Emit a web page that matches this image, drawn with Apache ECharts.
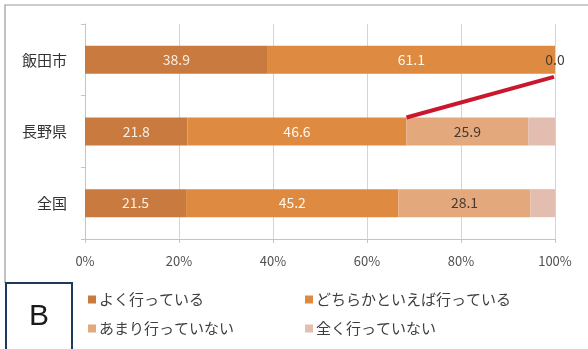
<!DOCTYPE html>
<html>
<head>
<meta charset="utf-8">
<script src="https://cdn.jsdelivr.net/npm/echarts@6/dist/echarts.min.js"></script>
<style>
  html, body { margin: 0; padding: 0; background: #fff; }
  #chart { width: 588px; height: 349px; }
</style>
</head>
<body>
<div id="chart"></div>
<script>
// Regions, listed bottom-to-top so the first one ends up on top
const regions = ['全国', '長野県', '飯田市'];
const seriesNames = ['よく行っている', 'どちらかといえば行っている', 'あまり行っていない', '全く行っていない'];
const oftenGo = [21.5, 21.8, 38.9];
const ratherGo = [45.2, 46.6, 61.1];
const rarelyGo = [28.1, 25.9, 0.0];
const neverGo = [5.2, 5.7, 0.0];
const xTicks = [0, 20, 40, 60, 80, 100];

const colors = ['#c97a3e', '#de8b41', '#e3a87c', '#e2bdb0'];
const labelColors = ['#fbeee2', '#fff6ec', '#4a3a30', '#4a3a30'];
const font = '"Noto Sans CJK JP", "Noto Sans", sans-serif';

const chart = echarts.init(document.getElementById('chart'));

function barSeries(idx, values, showLabel) {
  return {
    name: seriesNames[idx],
    type: 'bar',
    stack: 'total',
    barWidth: 28,
    data: values,
    itemStyle: { color: colors[idx] },
    label: {
      show: showLabel,
      position: 'inside',
      color: labelColors[idx],
      fontFamily: font,
      fontSize: 14,
      formatter: p => p.value.toFixed(1)
    },
    emphasis: { disabled: true },
    animation: false
  };
}

function legendAt(idx, left, top) {
  return {
    data: [seriesNames[idx]],
    left: left, top: top,
    itemWidth: 8, itemHeight: 8, itemGap: 4,
    icon: 'rect',
    textStyle: { fontFamily: font, fontSize: 15, color: '#3f3f3f', padding: [0, 0, 0, -2] },
    selectedMode: false
  };
}

chart.setOption({
  animation: false,
  grid: { left: 85, right: 33, top: 24, bottom: 110 },
  legend: [
    legendAt(0, 83, 287),
    legendAt(1, 300, 287),
    legendAt(2, 83, 316),
    legendAt(3, 300, 316)
  ],
  xAxis: {
    type: 'value', min: 0, max: 100, interval: 20,
    axisLine: { show: true, lineStyle: { color: '#c4c4c4' } },
    axisTick: { show: true, length: 4, lineStyle: { color: '#c4c4c4' } },
    splitLine: { show: true, lineStyle: { color: '#d4d4d4' } },
    axisLabel: {
      color: '#505050', fontFamily: font, fontSize: 13, margin: 16,
      formatter: v => (xTicks.indexOf(v) >= 0 ? v + '%' : '')
    }
  },
  yAxis: {
    type: 'category', data: regions,
    axisLine: { show: true, lineStyle: { color: '#c4c4c4' } },
    axisTick: { show: true, length: 4, lineStyle: { color: '#c4c4c4' } },
    axisLabel: { color: '#333', fontFamily: font, fontSize: 15, margin: 18 }
  },
  series: [
    barSeries(0, oftenGo, true),
    barSeries(1, ratherGo, true),
    barSeries(2, rarelyGo, true),
    barSeries(3, neverGo, false)
  ]
});

// Red connector from the end of 長野県's "going" share up to 飯田市's bar end
const bandHalf = 14;
const naganoGoing = oftenGo[1] + ratherGo[1];
const iidaGoing = oftenGo[2] + ratherGo[2];
const p1 = chart.convertToPixel({ gridIndex: 0 }, [naganoGoing, regions[1]]);
const p2 = chart.convertToPixel({ gridIndex: 0 }, [iidaGoing, regions[2]]);

chart.setOption({
  graphic: [
    // outer frame (top and left edges)
    { type: 'polyline', shape: { points: [[5, 283], [5, 5], [588, 5]] },
      style: { stroke: '#9a9a9a', lineWidth: 1.2, fill: null }, silent: true },
    { type: 'line', shape: { x1: p1[0], y1: p1[1] - bandHalf, x2: p2[0] - 1, y2: p2[1] + bandHalf + 3 },
      style: { stroke: '#c9172e', lineWidth: 4 }, z: 100, silent: true },
    // panel tag
    { type: 'rect', shape: { x: 6, y: 283, width: 66, height: 70 },
      style: { stroke: '#1e3a5c', lineWidth: 2, fill: '#fff' }, silent: true },
    { type: 'text', x: 39, y: 317,
      style: { text: 'B', fontSize: 30, fontFamily: '"Liberation Sans", Arial, sans-serif',
               fill: '#1a1a1a', align: 'center', verticalAlign: 'middle' }, silent: true }
  ]
});
</script>
</body>
</html>
